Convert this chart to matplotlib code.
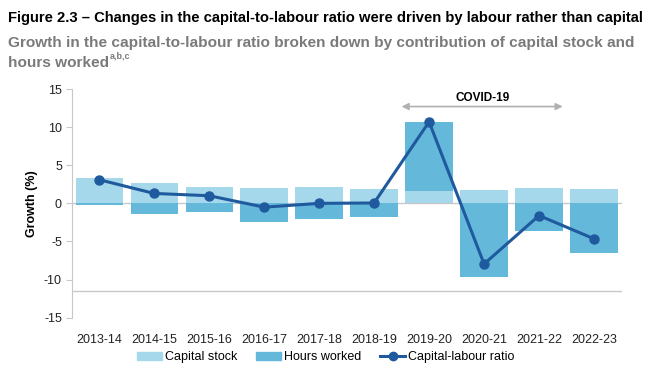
import matplotlib
matplotlib.use("Agg")
import matplotlib.pyplot as plt
import numpy as np
from matplotlib.patches import Patch
from matplotlib.lines import Line2D

plt.rcParams['font.family'] = ['Liberation Sans', 'DejaVu Sans']
plt.rcParams['axes.unicode_minus'] = False

years = ["2013-14", "2014-15", "2015-16", "2016-17", "2017-18",
         "2018-19", "2019-20", "2020-21", "2021-22", "2022-23"]
capital_stock = [3.3, 2.7, 2.2, 2.0, 2.1, 1.9, 1.6, 1.7, 2.0, 1.9]
hours_worked = [-0.2, -1.4, -1.2, -2.45, -2.1, -1.85, 9.1, -9.6, -3.6, -6.5]
ratio = [3.1, 1.3, 1.0, -0.5, 0.0, 0.05, 10.7, -7.95, -1.6, -4.65]

light = "#A5D8EA"
dark = "#64B9DB"
navy = "#1F5A9E"

fig = plt.figure(figsize=(6.53, 3.70), dpi=100)
ax = fig.add_axes([0.1098, 0.1414, 0.842, 0.618])

x = np.arange(len(years))
w = 0.86
ax.axhline(0, color="#c8c8c8", lw=1, zorder=0)
ax.bar(x, capital_stock, width=w, color=light, zorder=2, label="Capital stock")
bottoms = [c if h > 0 else 0 for c, h in zip(capital_stock, hours_worked)]
ax.bar(x, hours_worked, width=w, bottom=bottoms, color=dark, zorder=2, label="Hours worked")
ax.plot(x, ratio, color=navy, lw=2.2, marker="o", ms=6.5, zorder=3)
ax.axhline(-11.5, color="#c8c8c8", lw=1, zorder=1)

ax.set_xlim(-0.5, 9.5)
ax.set_ylim(-15, 15)
ax.set_yticks([-15, -10, -5, 0, 5, 10, 15])
ax.set_xticks(x)
ax.set_xticklabels(years)
ax.tick_params(axis='x', length=0, pad=12, labelsize=9, colors="#222222")
ax.tick_params(axis='y', length=4, labelsize=9, pad=3, colors="#c8c8c8", labelcolor="#222222")
for s in ["top", "right", "bottom"]:
    ax.spines[s].set_visible(False)
ax.spines["left"].set_color("#c8c8c8")
ax.set_ylabel("Growth (%)", fontsize=9, fontweight="bold", labelpad=4)

# COVID annotation
ax.annotate("", xy=(5.5, 12.7), xytext=(8.43, 12.7),
            arrowprops=dict(arrowstyle="<|-|>", color="#b0b0b0", lw=1.2,
                            mutation_scale=10, shrinkA=0, shrinkB=0))
ax.text(6.97, 13.8, "COVID-19", ha="center", va="center", fontsize=8.5, fontweight="bold")

fig.text(0.012, 0.951, "Figure 2.3 \u2013 Changes in the capital-to-labour ratio were driven by labour rather than capital",
         fontsize=10.6, fontweight="bold", color="black", va="center")
fig.text(0.012, 0.884, "Growth in the capital-to-labour ratio broken down by contribution of capital stock and",
         fontsize=11.1, fontweight="bold", color="#7a7a7a", va="center")
t = fig.text(0.012, 0.830, "hours worked",
             fontsize=11.1, fontweight="bold", color="#7a7a7a", va="center")
fig.canvas.draw()
bb = t.get_window_extent()
fig.text(bb.x1 / fig.bbox.width + 0.001, 0.848, "a,b,c", fontsize=6.5, fontweight="bold",
         color="#7a7a7a", va="center")

handles = [Patch(color=light, label="Capital stock"),
           Patch(color=dark, label="Hours worked"),
           Line2D([0], [0], color=navy, lw=2.2, marker="o", ms=6, label="Capital-labour ratio")]
fig.legend(handles=handles, loc="center", bbox_to_anchor=(0.499, 0.035), ncol=3, frameon=False,
           fontsize=9, handlelength=2.0, handleheight=0.6, handletextpad=0.25, columnspacing=1.5)

fig.savefig("out.png", dpi=100)
